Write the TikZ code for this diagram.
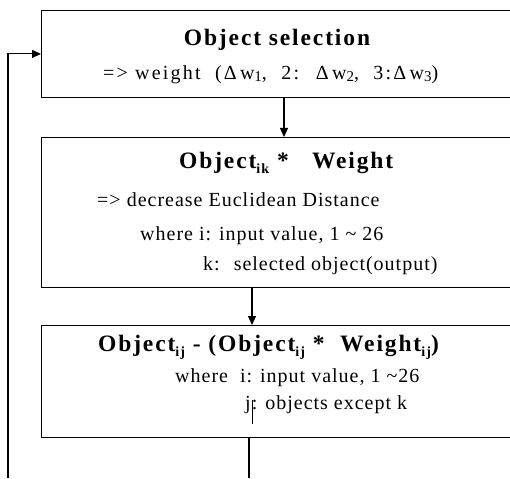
\documentclass[tikz,border=0pt]{standalone}
\usepackage{fontspec}
\setmainfont{Liberation Serif}
\newfontfamily\bodyf[LetterSpace=5]{Liberation Serif}
\newfontfamily\widef[LetterSpace=11]{Liberation Serif}
\newfontfamily\titlef[LetterSpace=8]{Liberation Serif}
\usetikzlibrary{arrows.meta}
\newcommand{\lsub}[1]{\raisebox{-0.45ex}{\fontsize{14}{14}\selectfont #1}}
\newcommand{\wsub}[1]{\raisebox{-0.15ex}{\fontsize{15}{15}\selectfont #1}}
\begin{document}
\begin{tikzpicture}[x=1pt,y=-1pt,
  box/.style={draw, line width=0.9pt, anchor=north west, minimum width=490pt, inner sep=0pt},
  ttl/.style={inner sep=0pt, font=\titlef\bfseries\fontsize{23.5}{23.5}\selectfont},
  txt/.style={inner sep=0pt, anchor=west, font=\bodyf\fontsize{20}{20}\selectfont},
  wtxt/.style={inner sep=0pt, anchor=west, font=\widef\fontsize{20}{20}\selectfont},
  arr/.style={line width=1.1pt, -{Triangle[length=9pt,width=8pt]}},
  ln/.style={line width=1.1pt}]
\clip (0,0) rectangle (510,478);
\fill[white] (0,0) rectangle (510,478);
% boxes
\node[box, minimum height=87pt] (b1) at (41,10) {};
\node[box, minimum height=150pt] (b2) at (41,137) {};
\node[box, minimum height=112pt] (b3) at (41,325) {};
% box 1 text
\node[ttl] (t1) at (277,40) {Object selection};
\node[wtxt] (t1a) at (103,75) {=> weight ~(Δ\,w\wsub{1}, ~2: ~Δ\,w\wsub{2}, ~3:Δ\,w\wsub{3})};
% box 2 text
\node[ttl, anchor=west] (t2) at (179,163) {Object\lsub{ik} *~~ Weight};
\node[txt] (t2a) at (97,200) {=> decrease Euclidean Distance};
\node[txt] (t2b) at (140,236) {where i: input value, 1 \char`~\ 26};
\node[txt] (t2c) at (203,266) {k:~ selected object(output)};
% box 3 text
\node[ttl, anchor=west] (t3) at (98,347) {Object\lsub{ij} - (Object\lsub{ij} *~ Weight\lsub{ij})};
\node[txt] (t3a) at (175,378) {where~ i: input value, 1 \char`~26};
\node[txt] (t3b) at (245,405) {j: objects except k};
% connectors
\coordinate (c1) at (284,0);
\coordinate (c2) at (252,0);
\coordinate (mb) at (249,478);
\coordinate (lb) at (8,478);
\draw[arr] (c1 |- b1.south) -- (c1 |- b2.north);
\draw[arr] (c2 |- b2.south) -- (c2 |- b3.north);
\draw[ln] (b3.south -| mb) -- (mb);
\draw[arr] (lb) |- (b1.west);
\coordinate (jt) at (252,400);
\coordinate (jb) at (252,424);
\draw[line width=1pt] (jt) -- (jb);
\end{tikzpicture}
\end{document}
